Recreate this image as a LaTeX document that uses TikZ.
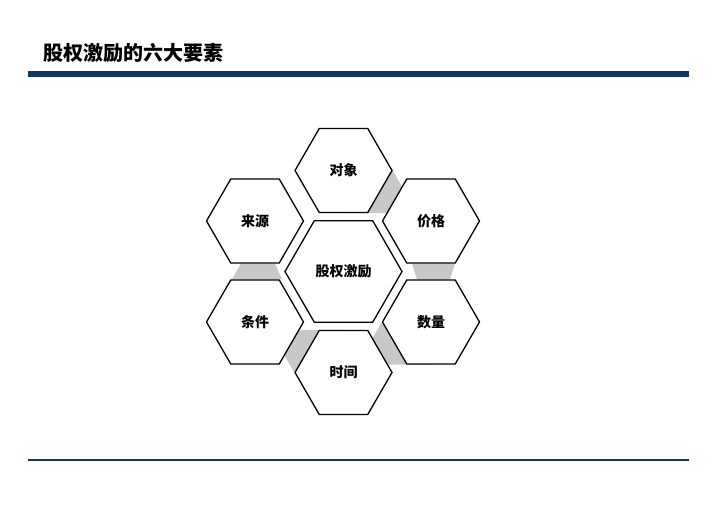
\documentclass[tikz,border=0pt]{standalone}
\usepackage{fontspec}
\setmainfont{Liberation Sans}
\newfontfamily\cjk{Noto Sans CJK SC}
\usetikzlibrary{shapes.geometric,positioning,backgrounds}
\definecolor{navy}{RGB}{16,52,104}
\definecolor{gapgray}{RGB}{200,200,200}
\begin{document}
\begin{tikzpicture}[x=1pt, y=1pt, on grid, node distance=101pt,
	hex/.style = {draw, line width=1.3pt, fill=white, regular polygon, regular polygon sides=6, minimum size=97pt, inner sep=0pt, font=\cjk\bfseries\fontsize{14}{14}\selectfont},
	core/.style = {hex, minimum size=117pt},
	gap/.style = {fill=gapgray}]
		\useasboundingbox (0,0) rectangle (720,510);
		
		\node[anchor=west, font=\cjk\bfseries\fontsize{20}{20}\selectfont] (title) at (40,457) {股权激励的六大要素};
		\coordinate (barL) at (28,436);
		\coordinate (barR) at (689,436);
		\coordinate (footL) at (28,50);
		\coordinate (footR) at (689,50);
		\draw[navy, line width=6pt] (barL) -- (barR);
		\draw[navy, line width=2.5pt] (footL) -- (footR);
		
		\node[core] (core) at (343.5,238.5) {股权激励};
		\node[hex] (obj) [above=of core] {对象};
		\node[hex] (price) [above right=50.5pt and 87.5pt of core] {价格};
		\node[hex] (num) [below right=50.5pt and 87.5pt of core] {数量};
		\node[hex] (time) [below=of core] {时间};
		\node[hex] (cond) [below left=50.5pt and 88.5pt of core] {条件};
		\node[hex] (src) [above left=50.5pt and 88.5pt of core] {来源};
		
		%gray joints between ring cells
		\begin{scope}[on background layer]
			\fill[gap] (obj.0) -- ++(300:30) |- (obj.south) -- cycle;
			\fill[gap] ([xshift=-19pt]price.south) -- ([xshift=24pt]price.south) -- ([xshift=19pt]num.north) -- ([xshift=-14pt]num.north) -- cycle;
			\fill[gap] (num.180) -- ++(240:30) |- (num.south) -- cycle;
			\fill[gap] (time.180) -- ++(120:30) |- (time.north) -- cycle;
			\fill[gap] ([xshift=-23pt]cond.north) -- ([xshift=27pt]cond.north) -- ([xshift=20pt]src.south) -- ([xshift=-14pt]src.south) -- cycle;
		\end{scope}
	\end{tikzpicture}
\end{document}
